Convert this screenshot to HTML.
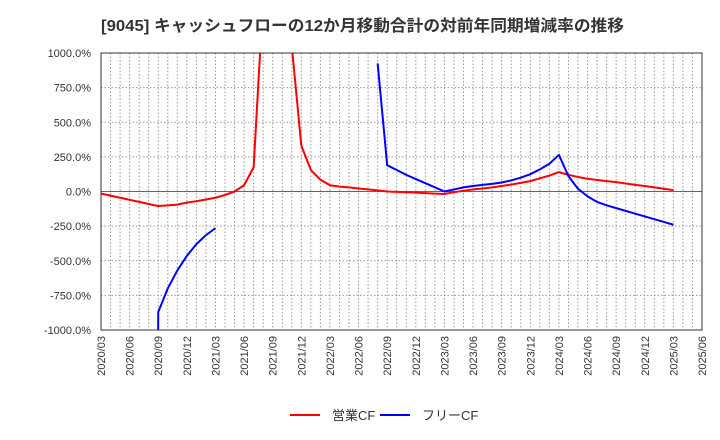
<!DOCTYPE html>
<html><head><meta charset="utf-8"><style>
html,body{margin:0;padding:0;background:#fff;overflow:hidden;width:720px;height:440px;font-family:"Liberation Sans","Noto Sans CJK JP",sans-serif}
svg{display:block}
</style></head><body>
<svg id="chart" width="720" height="440" xmlns="http://www.w3.org/2000/svg">
<text x="101" y="31" font-size="16" font-weight="bold" fill="#333" textLength="523" lengthAdjust="spacingAndGlyphs" font-family="Liberation Sans, Noto Sans CJK JP, sans-serif">[9045]  キャッシュフローの12か月移動合計の対前年同期増減率の推移</text>
<defs><clipPath id="pc"><rect x="101" y="53" width="601" height="277"/></clipPath></defs>
<g id="grid"></g>
<g id="series" clip-path="url(#pc)"></g>
<rect x="101" y="53" width="601" height="277" fill="none" stroke="#333" stroke-width="1"/>
<g id="axes"></g>
<g>
<line x1="290" y1="415" x2="320" y2="415" stroke="#f00" stroke-width="2"/>
<text x="332" y="420" font-size="13" fill="#333">営業CF</text>
<line x1="380" y1="415" x2="410" y2="415" stroke="#00f" stroke-width="2"/>
<text x="422" y="420" font-size="13" fill="#333">フリーCF</text>
</g>
</svg>
<script>
const xTickLabels=["2020/03","2020/06","2020/09","2020/12","2021/03","2021/06","2021/09","2021/12","2022/03","2022/06","2022/09","2022/12","2023/03","2023/06","2023/09","2023/12","2024/03","2024/06","2024/09","2024/12","2025/03","2025/06"];
const yTicks=[1000,750,500,250,0,-250,-500,-750,-1000];
// monthly values starting 2020/03
const operatingCF=[-15,-30,-45,-60,-75,-90,-105,-100,-95,-80,-70,-58,-45,-25,0,45,175,1400,2000,1900,1050,330,155,85,45,35,30,22,15,8,0,-3,-5,-8,-12,-15,-18,-5,5,15,22,30,40,50,62,75,95,115,140,120,105,92,83,75,68,58,48,40,30,20,10];
const freeCF=[null,null,null,null,null,-20000,-870,-700,-570,-465,-380,-315,-265,null,null,null,null,null,null,null,null,null,null,null,null,null,null,null,null,925,190,155,120,90,60,30,0,15,30,40,48,55,65,80,100,125,160,200,265,110,20,-35,-75,-100,-120,-140,-160,-180,-200,-220,-240];
const X0=101,X1=702,Y0=53,Y1=330,NM=63;
const xs=i=>X0+(X1-X0)*i/NM;
const ys=v=>Y1-(v+1000)/2000*(Y1-Y0);
const NS="http://www.w3.org/2000/svg";
function mk(t,a,p){const e=document.createElementNS(NS,t);for(const k in a)e.setAttribute(k,a[k]);p.appendChild(e);return e;}
const grid=document.getElementById('grid'),axes=document.getElementById('axes'),series=document.getElementById('series');
for(let m=1;m<NM;m++){const l=mk('line',{x1:xs(m),x2:xs(m),y1:Y0,y2:Y1,stroke:'#999','stroke-width':1,'stroke-dasharray':'1.5,2'},grid);

}
yTicks.forEach(v=>{const y=ys(v);
const l=mk('line',{x1:X0,x2:X1,y1:y,y2:y,stroke:v===0?'#666':'#999','stroke-width':1,'stroke-dasharray':v===0?'none':'1.5,2'},grid);


const t=mk('text',{x:91,y:y+4,'text-anchor':'end','font-size':11,fill:'#333'},axes);


t.textContent=v.toFixed(1)+'%';});
xTickLabels.forEach((s,i)=>{const x=xs(i*3);
const t=mk('text',{x:0,y:0,transform:`translate(${x+4},336) rotate(-90)`,'text-anchor':'end','font-size':11,fill:'#333'},axes);


t.textContent=s;});
function draw(arr,color,name){let segs=[],cur=[];arr.forEach((v,i)=>{if(v===null){if(cur.length)segs.push(cur);cur=[];}else cur.push(xs(i)+','+ys(v));});if(cur.length)segs.push(cur);
segs.forEach(s=>{const p=mk('polyline',{points:s.join(' '),fill:'none',stroke:color,'stroke-width':2,'stroke-linejoin':'round'},series);

});}
draw(operatingCF,'#f00','operating-cf-line');
draw(freeCF,'#00f','free-cf-line');
</script>
</body></html>
